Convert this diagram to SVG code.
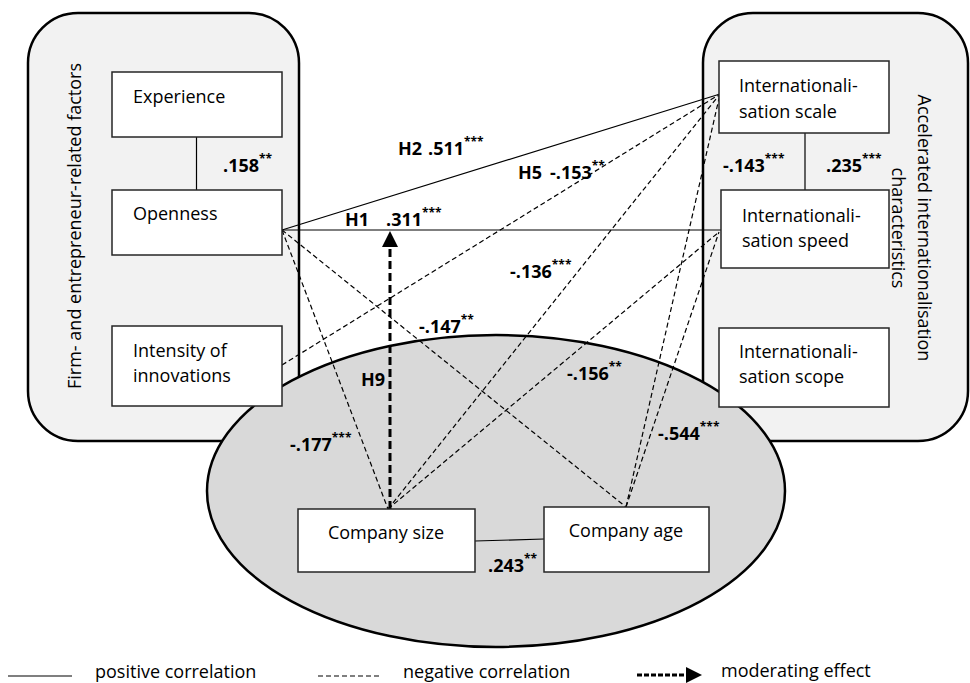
<svg xmlns="http://www.w3.org/2000/svg" width="970" height="683" viewBox="0 0 970 683">
<defs>
<style>
.outer{fill:#f2f2f2;stroke:#000;stroke-width:2.5}
.ell{fill:#d9d9d9;stroke:#000;stroke-width:2.5}
.box{fill:#fff;stroke:#262626;stroke-width:1.5}
.t{font-family:"Open Sans","Liberation Sans",sans-serif;font-size:18px;fill:#000}
.lbl{font-family:"Open Sans","Liberation Sans",sans-serif;font-size:18px;font-weight:bold;fill:#000}
.st{font-size:12px;font-weight:bold}
.leg{font-family:"Open Sans","Liberation Sans",sans-serif;font-size:18px;fill:#000}
.pos{stroke:#000;stroke-width:1.2;fill:none}
.neg{stroke:#000;stroke-width:1.2;fill:none;stroke-dasharray:5 3}
.mod{stroke:#000;stroke-width:3;fill:none;stroke-dasharray:8 4}
</style>
</defs>
<g id="group-firm"><rect class="outer" x="28" y="13" width="271" height="428" rx="50"/>
<text class="t" transform="translate(81,226) rotate(-90)" text-anchor="middle">Firm- and entrepreneur-related factors</text></g>
<g id="group-accel"><rect class="outer" x="703" y="13" width="265" height="428" rx="50"/>
<text class="t" transform="translate(918,228) rotate(90)" text-anchor="middle">Accelerated internationalisation</text>
<text class="t" transform="translate(892,228) rotate(90)" text-anchor="middle">characteristics</text></g>
<g id="group-company"><ellipse class="ell" cx="496" cy="491" rx="289" ry="156"/></g>
<g id="connectors">
<line class="pos" x1="196.5" y1="137" x2="196.5" y2="190"/>
<line class="pos" x1="805" y1="133" x2="805" y2="190"/>
<line class="pos" x1="282" y1="230" x2="720" y2="94"/>
<line class="pos" x1="282" y1="230" x2="721" y2="230"/>
<line class="pos" x1="475" y1="541" x2="544" y2="539"/>
<line class="neg" x1="282" y1="365" x2="720" y2="94"/>
<line class="neg" x1="282" y1="230" x2="388" y2="509"/>
<line class="neg" x1="282" y1="230" x2="626" y2="507"/>
<line class="neg" x1="388" y1="509" x2="720" y2="94"/>
<line class="neg" x1="388" y1="509" x2="719" y2="232"/>
<line class="neg" x1="626" y1="507" x2="720" y2="94"/>
<line class="neg" x1="626" y1="507" x2="719" y2="232"/>
<line class="mod" x1="390" y1="509" x2="390" y2="246"/>
<polygon points="382,247 398,247 390,231" fill="#000"/>
</g>
<g id="node-experience"><rect class="box" x="112" y="72" width="170" height="65"/><text class="t" x="133" y="103">Experience</text></g>
<g id="node-openness"><rect class="box" x="112" y="190" width="170" height="65"/><text class="t" x="133" y="220">Openness</text></g>
<g id="node-intensity"><rect class="box" x="112" y="326" width="170" height="80"/><text class="t" x="133" y="357">Intensity of</text><text class="t" x="133" y="382">innovations</text></g>
<g id="node-scale"><rect class="box" x="719" y="61" width="170" height="72"/><text class="t" x="739" y="92">Internationali-</text><text class="t" x="739" y="118">sation scale</text></g>
<g id="node-speed"><rect class="box" x="721" y="190" width="168" height="78"/><text class="t" x="742" y="222">Internationali-</text><text class="t" x="742" y="247">sation speed</text></g>
<g id="node-scope"><rect class="box" x="719" y="328" width="170" height="79"/><text class="t" x="739" y="358">Internationali-</text><text class="t" x="739" y="383">sation scope</text></g>
<g id="node-size"><rect class="box" x="298" y="509" width="177" height="63"/><text class="t" x="386" y="539" text-anchor="middle">Company size</text></g>
<g id="node-age"><rect class="box" x="544" y="507" width="165" height="65"/><text class="t" x="626" y="537" text-anchor="middle">Company age</text></g>
<g id="labels">
<text class="lbl" x="223" y="172">.158<tspan class="st" dy="-9">**</tspan></text>
<text class="lbl" x="723" y="172">-.143<tspan class="st" dy="-9">***</tspan></text>
<text class="lbl" x="826" y="172">.235<tspan class="st" dy="-9">***</tspan></text>
<text class="lbl" x="398" y="155">H2</text>
<text class="lbl" x="428" y="155">.511<tspan class="st" dy="-9">***</tspan></text>
<text class="lbl" x="518" y="179">H5</text>
<text class="lbl" x="550" y="179">-.153<tspan class="st" dy="-9">**</tspan></text>
<text class="lbl" x="345" y="226">H1</text>
<text class="lbl" x="386" y="226">.311<tspan class="st" dy="-9">***</tspan></text>
<text class="lbl" x="510" y="278">-.136<tspan class="st" dy="-9">***</tspan></text>
<text class="lbl" x="419" y="333">-.147<tspan class="st" dy="-9">**</tspan></text>
<text class="lbl" x="361" y="386">H9</text>
<text class="lbl" x="567" y="380">-.156<tspan class="st" dy="-9">**</tspan></text>
<text class="lbl" x="290" y="451">-.177<tspan class="st" dy="-9">***</tspan></text>
<text class="lbl" x="658" y="440">-.544<tspan class="st" dy="-9">***</tspan></text>
<text class="lbl" x="488" y="572">.243<tspan class="st" dy="-9">**</tspan></text>
</g>
<g id="legend">
<line class="pos" x1="8" y1="676" x2="72" y2="676"/>
<text class="leg" x="95" y="678">positive correlation</text>
<line class="neg" x1="318" y1="676" x2="382" y2="676" stroke-dasharray="5 3"/>
<text class="leg" x="403" y="678">negative correlation</text>
<line x1="637" y1="675" x2="686" y2="675" stroke="#000" stroke-width="3" stroke-dasharray="5 2"/>
<polygon points="686,667 686,683 702,675" fill="#000"/>
<text class="leg" x="721" y="677">moderating effect</text>
</g>
</svg>
